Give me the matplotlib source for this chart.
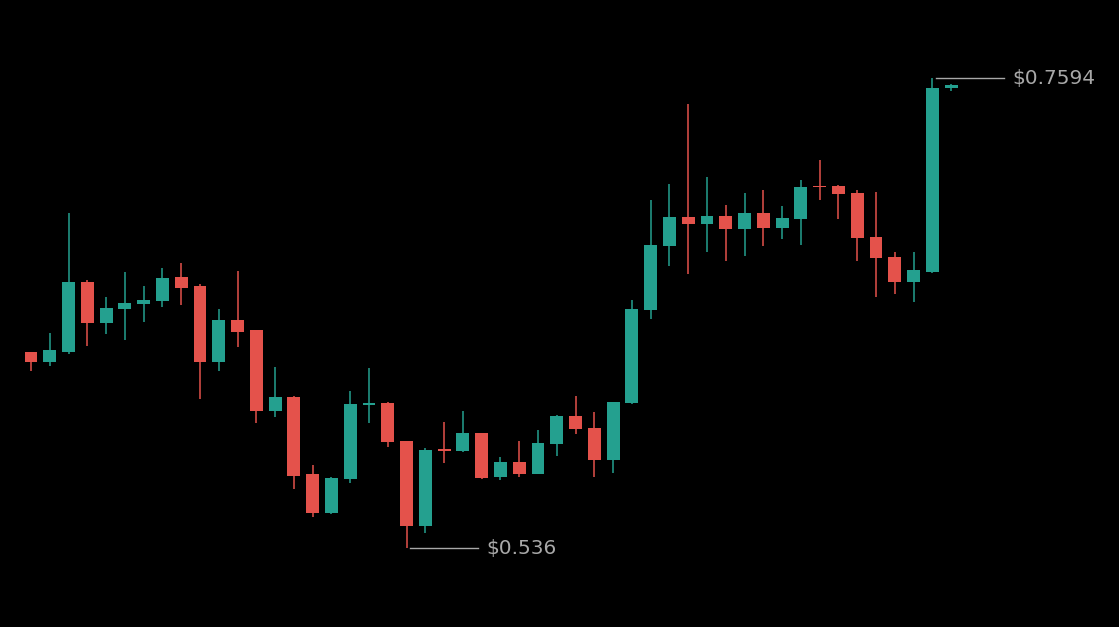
import matplotlib
matplotlib.use("Agg")
import matplotlib.pyplot as plt
import numpy as np

# OHLC data (price, USD)
opens = [0.6292, 0.6244, 0.6292, 0.6624, 0.6430, 0.6496, 0.6520, 0.6534, 0.6648, 0.6605,
         0.6244, 0.6444, 0.6396, 0.6011, 0.6078, 0.5712, 0.5526, 0.5688, 0.6042, 0.6049,
         0.5869, 0.5465, 0.5826, 0.5821, 0.5907, 0.5697, 0.5769, 0.5712, 0.5854, 0.5987,
         0.5930, 0.5778, 0.6049, 0.6491, 0.6795, 0.6933, 0.6900, 0.6938, 0.6876, 0.6952,
         0.6881, 0.6924, 0.7078, 0.7081, 0.7047, 0.6838, 0.6743, 0.6624, 0.6672, 0.7549]
highs = [0.6292, 0.6382, 0.6952, 0.6634, 0.6553, 0.6672, 0.6605, 0.6691, 0.6715, 0.6615,
         0.6496, 0.6677, 0.6396, 0.6220, 0.6082, 0.5754, 0.5697, 0.6106, 0.6216, 0.6054,
         0.5869, 0.5835, 0.5959, 0.6011, 0.5907, 0.5793, 0.5869, 0.5921, 0.5992, 0.6082,
         0.6006, 0.6054, 0.6539, 0.7014, 0.7090, 0.7470, 0.7123, 0.6990, 0.7047, 0.7062,
         0.6986, 0.7109, 0.7204, 0.7085, 0.7062, 0.7052, 0.6767, 0.6767, 0.7594, 0.7565]
lows = [0.6201, 0.6225, 0.6282, 0.6320, 0.6377, 0.6349, 0.6434, 0.6506, 0.6515, 0.6068,
        0.6201, 0.6315, 0.5954, 0.5983, 0.5640, 0.5507, 0.5524, 0.5669, 0.5954, 0.5840,
        0.5360, 0.5431, 0.5764, 0.5816, 0.5688, 0.5683, 0.5697, 0.5710, 0.5797, 0.5902,
        0.5697, 0.5717, 0.6045, 0.6448, 0.6700, 0.6662, 0.6767, 0.6724, 0.6748, 0.6795,
        0.6829, 0.6800, 0.7014, 0.6924, 0.6724, 0.6553, 0.6567, 0.6529, 0.6667, 0.7534]
closes = [0.6244, 0.6301, 0.6624, 0.6430, 0.6501, 0.6525, 0.6539, 0.6643, 0.6596, 0.6244,
          0.6444, 0.6387, 0.6011, 0.6078, 0.5702, 0.5526, 0.5693, 0.6044, 0.6047, 0.5864,
          0.5465, 0.5826, 0.5821, 0.5907, 0.5693, 0.5769, 0.5712, 0.5859, 0.5987, 0.5926,
          0.5778, 0.6054, 0.6496, 0.6800, 0.6933, 0.6900, 0.6938, 0.6876, 0.6952, 0.6881,
          0.6929, 0.7076, 0.7074, 0.7043, 0.6834, 0.6738, 0.6624, 0.6681, 0.7546, 0.7563]

UP = "#24a08f"
DOWN = "#e4524b"
BG = "#000000"
LABEL = "#a8a8a8"

o = np.array(opens); h = np.array(highs); l = np.array(lows); c = np.array(closes)
x = np.arange(len(o))
up = c >= o
colors = np.where(up, UP, DOWN)

fig = plt.figure(figsize=(11.19, 6.27), dpi=100, facecolor=BG)
ax = fig.add_axes([0, 0, 1, 1], facecolor=BG)

ax.vlines(x, l, h, colors=colors, linewidth=1.1, zorder=2)
body_bottom = np.minimum(o, c)
body_h = np.maximum(np.abs(c - o), 0.0008)
ax.bar(x, body_h, bottom=body_bottom, width=0.69, color=colors, linewidth=0, zorder=3)

# annotations for max high and min low
imax = int(np.argmax(h)); imin = int(np.argmin(l))
for i, val, txt in [(imax, h[imax], f"${h[imax]:.4f}"), (imin, l[imin], f"${l[imin]:.3f}")]:
    ax.plot([i + 0.2, i + 3.8], [val, val], color=LABEL, linewidth=1.0, zorder=4)
    ax.text(i + 4.25, val, txt, color=LABEL, fontsize=14.5, va="center", ha="left",
            family="DejaVu Sans")

ax.set_xlim(-1.65, 57.94)
ax.set_ylim(0.4985, 0.7965)
ax.axis("off")

fig.savefig("out.png", dpi=100, facecolor=BG)
